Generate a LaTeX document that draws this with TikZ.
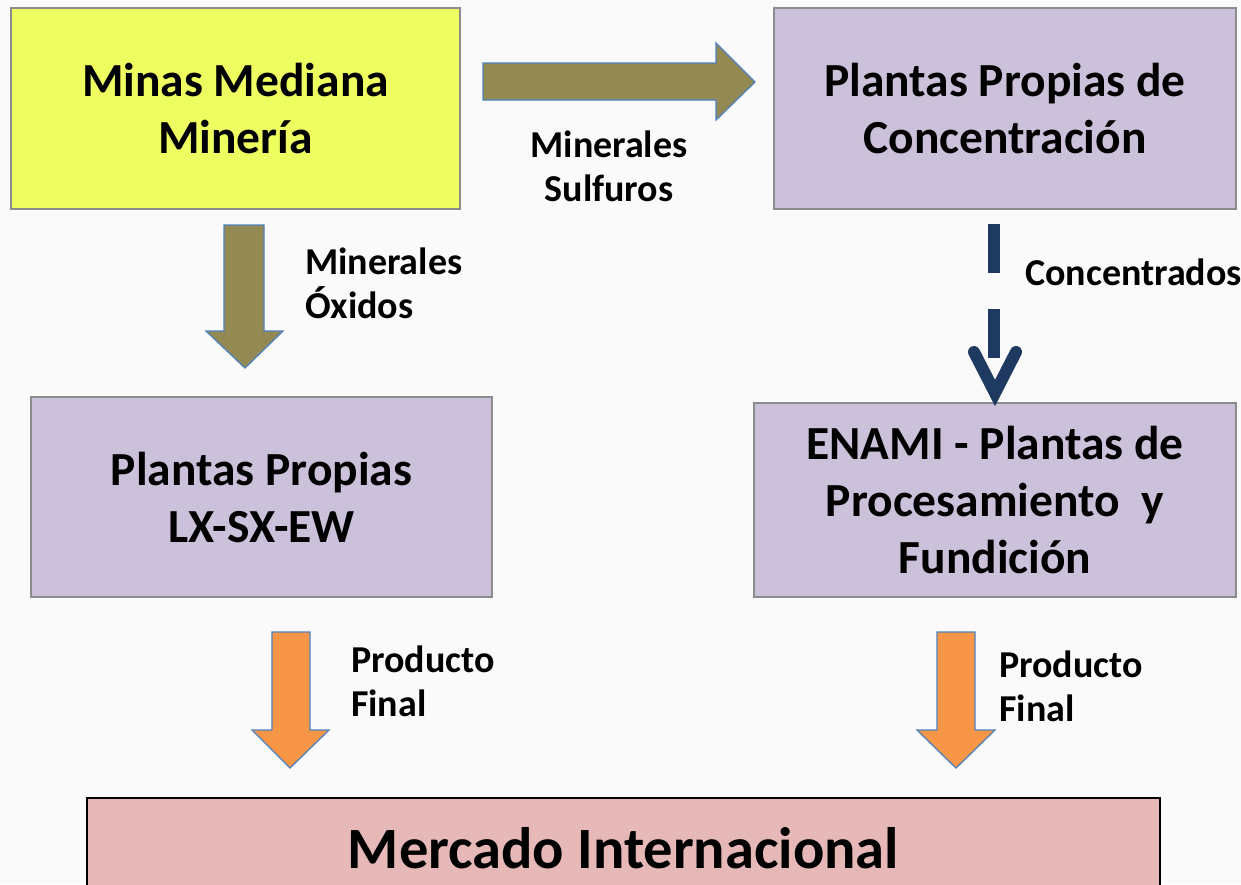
\documentclass[tikz,border=0pt]{standalone}
\usepackage{fontspec}
\setmainfont{Carlito}
\definecolor{boxyellow}{HTML}{EEFE60}
\definecolor{boxlav}{HTML}{CCC1DA}
\definecolor{boxpink}{HTML}{E6B9B8}
\definecolor{olivefill}{HTML}{938953}
\definecolor{orangefill}{HTML}{F79646}
\definecolor{arrowline}{HTML}{4F81BD}
\definecolor{navyline}{HTML}{1F3A60}
\definecolor{boxline}{HTML}{8C8C8C}
\definecolor{bgcol}{HTML}{FAFAFA}
\begin{document}
\begin{tikzpicture}[x=1pt,y=-1pt,
  box/.style={draw=boxline, line width=1.5pt, align=center, inner sep=0pt,
    font=\fontsize{47.5}{57}\selectfont\bfseries},
  lbl/.style={align=left, inner sep=0pt, anchor=base west,
    font=\fontsize{38}{44}\selectfont\bfseries},
  blockarrow/.style={draw=arrowline, line width=1.3pt, line join=miter}]
\useasboundingbox (0,0) rectangle (1241,884);
\fill[bgcol] (0,0) rectangle (1241,884);

% boxes
\node[box, fill=boxyellow, minimum width=449, minimum height=201] (minas) at (235.5,108.5) {Minas Mediana\\Minería};
\node[box, fill=boxlav, minimum width=462, minimum height=201] (conc) at (1005,108.5) {Plantas Propias de\\Concentración};
\node[box, fill=boxlav, minimum width=461, minimum height=200] (lx) at (261.5,497) {Plantas Propias\\LX-SX-EW};
\node[box, fill=boxlav, minimum width=482, minimum height=194] (enami) at (995,500) {ENAMI - Plantas de\\Procesamiento \ y\\Fundición};
\node[draw=black, line width=2pt, fill=boxpink, inner sep=0pt, minimum width=1073, minimum height=100,
  font=\fontsize{58.5}{70}\selectfont\bfseries] (mercado) at (623.5,848) {Mercado Internacional};

% block arrows
\draw[blockarrow, fill=olivefill] (483,63) -- (716,63) -- (716,43) -- (755,82) -- (716,120) -- (716,100) -- (483,100) -- cycle;
\draw[blockarrow, fill=olivefill] (224,225) -- (264,225) -- (264,331) -- (283,331) -- (245,368) -- (206,331) -- (224,331) -- cycle;
\draw[blockarrow, fill=orangefill] (272,632) -- (310,632) -- (310,730) -- (329,730) -- (290,768) -- (252,730) -- (272,730) -- cycle;
\draw[blockarrow, fill=orangefill] (937,632) -- (975,632) -- (975,730) -- (995,730) -- (956,768) -- (917,730) -- (937,730) -- cycle;

% dashed navy arrow
\draw[navyline, line width=12pt, dash pattern=on 49pt off 36pt] (994,224) -- (994,392);
\draw[navyline, line width=12pt, line cap=round, line join=miter] (974,352) -- (995,393) -- (1016,352);

% labels (base anchor = baseline of last line)
\node[lbl, align=center, anchor=base] (sulf) at (609,201) {Minerales\\Sulfuros};
\node[lbl] (oxid) at (305,318) {Minerales\\Óxidos};
\node[lbl] (concl) at (1025,285) {Concentrados};
\node[lbl] (pf1) at (351,716) {Producto\\Final};
\node[lbl] (pf2) at (999,721) {Producto\\Final};
\end{tikzpicture}
\end{document}
